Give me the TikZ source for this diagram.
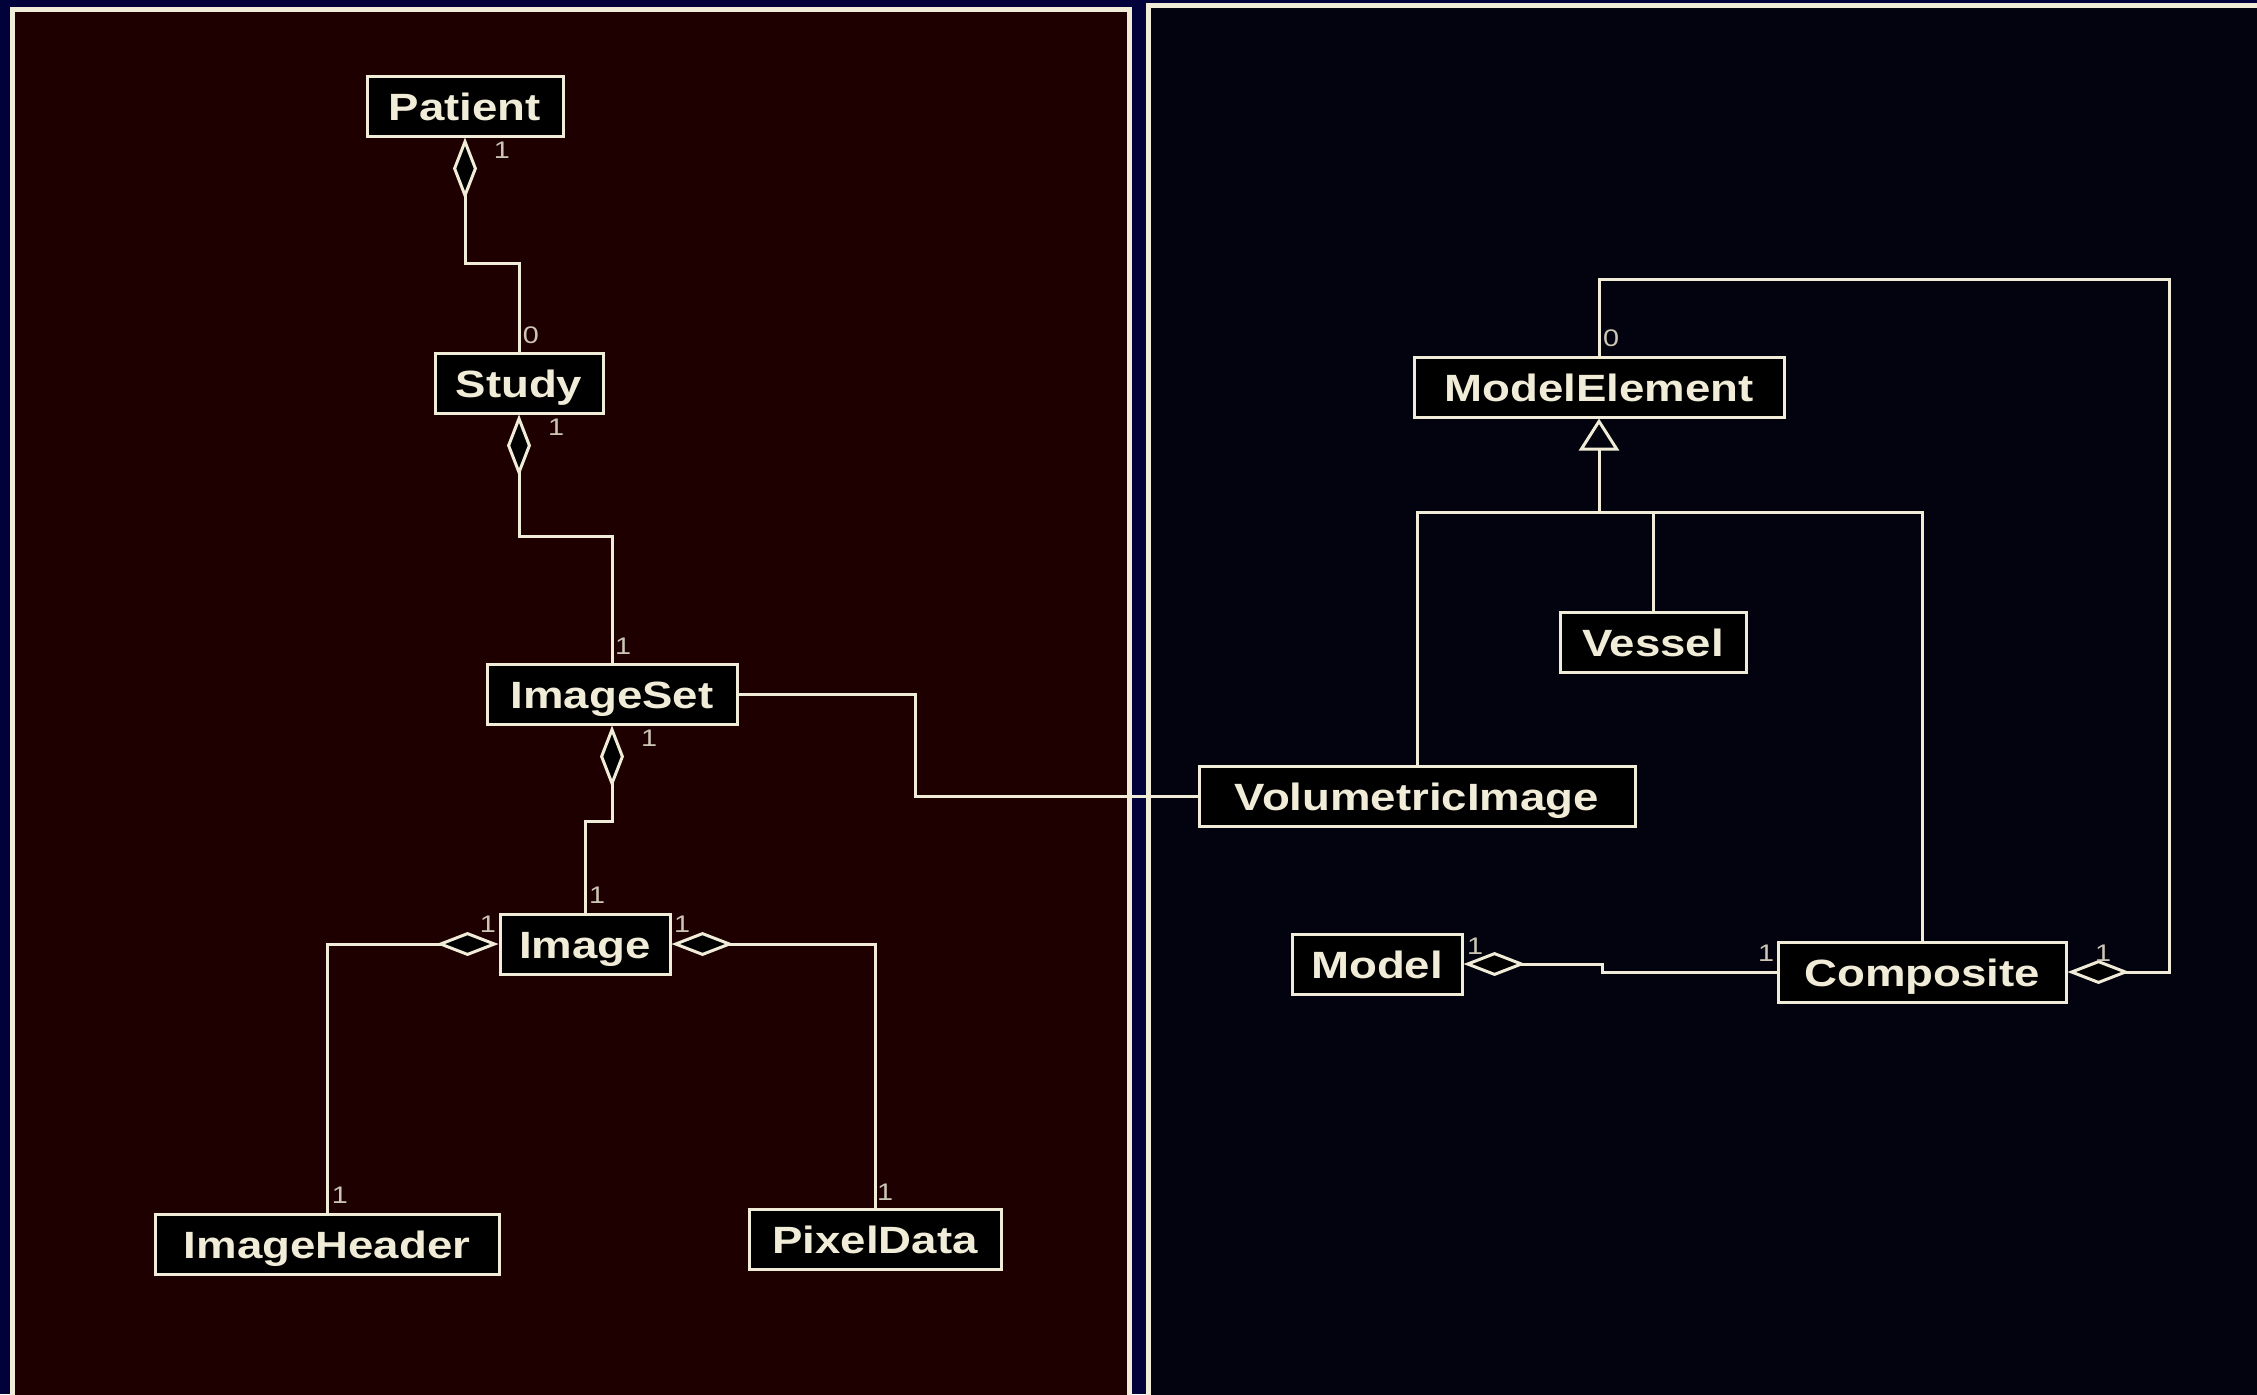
\documentclass[tikz,border=0pt]{standalone}
\usepackage{fontspec}
\setmainfont{Liberation Sans}[FakeStretch=1.2]
\usetikzlibrary{arrows.meta}

\definecolor{outerbg}{RGB}{2,2,58}
\definecolor{leftbg}{RGB}{30,0,0}
\definecolor{rightbg}{RGB}{3,3,16}
\definecolor{cream}{RGB}{240,236,216}
\definecolor{multcol}{RGB}{205,198,182}

\tikzset{
  cls/.style={draw=cream, fill=black, text=cream, line width=1.5pt,
    inner xsep=6pt, inner ysep=8pt, text height=14pt, text depth=0pt,
    font=\fontsize{19}{22}\selectfont\bfseries},
  mult/.style={text=multcol, inner sep=0pt, font=\fontsize{12}{14}\selectfont},
  link/.style={draw=cream, line width=1.5pt},
  agg/.style={link, {Diamond[fill=black, length=31pt, width=12pt]}-},
  gen/.style={link, -{Triangle[open, length=16pt, width=20pt]}},
  panel/.style={draw=cream, line width=2.5pt},
}

\begin{document}
\begin{tikzpicture}[x=0.5pt, y=-0.5pt]
    \useasboundingbox (0,0) rectangle (2257,1394);
    \fill[outerbg] (0,0) rectangle (2257,1394);

    % two panels
    \draw[panel, fill=leftbg] (12,9) rectangle (1129,1420);
    \draw[panel, fill=rightbg] (1148,5) rectangle (2270,1420);

    % imaging side
    \node[cls, minimum width=98pt] (patient) at (465,106) {Patient};
    \node[cls, minimum width=84pt] (study) at (519,383) {Study};
    \node[cls, minimum width=125pt] (imageset) at (612,694) {ImageSet};
    \node[cls, minimum width=85pt] (image) at (585,944) {Image};
    \node[cls, minimum width=172pt] (imageheader) at (327,1244) {ImageHeader};
    \node[cls, minimum width=126pt] (pixeldata) at (875,1239) {PixelData};

    % model side
    \node[cls, minimum width=185pt] (modelelement) at (1599,387) {ModelElement};
    \node[cls, minimum width=93pt] (vessel) at (1653,642) {Vessel};
    \node[cls, minimum width=218pt] (volumetric) at (1417,796) {VolumetricImage};
    \node[cls, minimum width=85pt] (model) at (1377,964) {Model};
    \node[cls, minimum width=144pt] (composite) at (1922,972) {Composite};

    \draw[agg] (patient.south) -- ++(0,126) -| (study.north);
    \draw[agg] (study.south) -- ++(0,122) -| (imageset.north);
    \draw[agg] (imageset.south) -- ++(0,96) -| (image.north);
    \draw[agg] (image.west) -| (imageheader.north);
    \draw[agg] (image.east) -| (pixeldata.north);

    \coordinate (vbend) at (915,0);
    \draw[link] (imageset.east) -- (imageset.east -| vbend) |- (volumetric.west);

    \coordinate (bus) at (1599,512);
    \draw[gen] (bus) -- (modelelement.south);
    \draw[link] (volumetric.north) |- (bus) -| (composite.north);
    \draw[link] (vessel.north) -- (vessel.north |- bus);

    \coordinate (loop) at (2169,279);
    \draw[agg] (composite.east) -| (loop) -| (modelelement.north);

    \coordinate (mstep) at (1602,0);
    \draw[agg] (model.east) -- (model.east -| mstep) |- (composite.west);

    % multiplicities
    \node[mult] (m-p) at (502,150) {1};
    \node[mult] (m-s0) at (531,335) {0};
    \node[mult] (m-s1) at (556,427) {1};
    \node[mult] (m-is0) at (623,646) {1};
    \node[mult] (m-is1) at (649,738) {1};
    \node[mult] (m-i0) at (597,895) {1};
    \node[mult] (m-il) at (488,924) {1};
    \node[mult] (m-ir) at (682,924) {1};
    \node[mult] (m-ih) at (340,1195) {1};
    \node[mult] (m-pd) at (885,1192) {1};
    \node[mult] (m-me) at (1611,338) {0};
    \node[mult] (m-cr) at (2103,953) {1};
    \node[mult] (m-m) at (1475,946) {1};
    \node[mult] (m-cl) at (1766,953) {1};
  \end{tikzpicture}
\end{document}
